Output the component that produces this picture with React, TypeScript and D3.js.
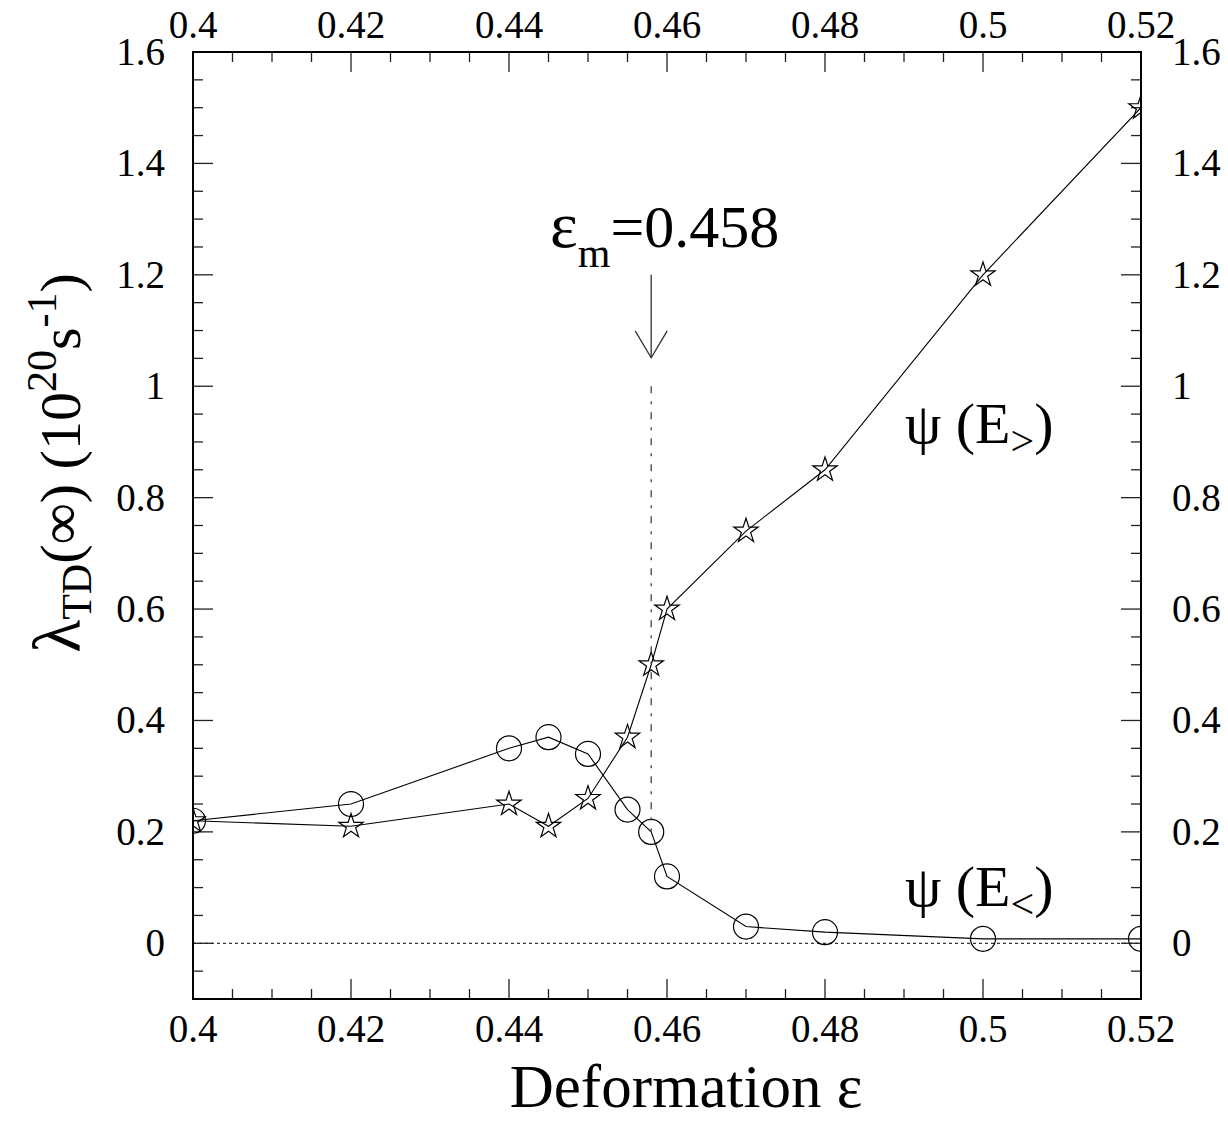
import React from "react";
import * as d3 from "d3";

// ---- data ----
const deformation = [0.4, 0.42, 0.44, 0.445, 0.45, 0.455, 0.458, 0.46, 0.47, 0.48, 0.5, 0.52];
const psiUpper = [0.22, 0.21, 0.25, 0.21, 0.26, 0.37, 0.5, 0.6, 0.74, 0.85, 1.2, 1.5]; // stars, E>
const psiLower = [0.22, 0.25, 0.35, 0.37, 0.34, 0.24, 0.2, 0.12, 0.03, 0.02, 0.008, 0.008]; // circles, E<
const xTickLabels = ["0.4", "0.42", "0.44", "0.46", "0.48", "0.5", "0.52"];
const yTickLabels = ["0", "0.2", "0.4", "0.6", "0.8", "1", "1.2", "1.4", "1.6"];
const epsM = 0.458;
const arrowFromTo = [1.2, 1.051];
const markerLineFromTo = [1.0, 0.2];

const W = 1228;
const H = 1121;
const L = 193, R = 1141, T = 52, B = 999;
const FONT = "Liberation Serif, Times New Roman, DejaVu Serif, serif";

export default function App() {
  const x = d3.scaleLinear().domain([0.4, 0.52]).range([L, R]);
  const y = d3.scaleLinear().domain([-0.1, 1.6]).range([B, T]);

  const xMajor = xTickLabels.map(Number);
  const xMinor = d3.range(0, 25).map((i) => 0.4 + i * 0.005).filter((v) => !xMajor.some((m) => Math.abs(m - v) < 1e-6));
  const yMajor = yTickLabels.map(Number);
  const yMinor = d3.range(-1, 32).map((i) => i * 0.05).filter((v) => v > -0.1 && v < 1.6 && !yMajor.some((m) => Math.abs(m - v) < 1e-6));

  const line = d3.line<number>().x((_, i) => x(deformation[i])).y((d) => y(d));
  const star = d3.symbol().type(d3.symbolStar).size(185)() as string;

  const tickStroke = "#222";
  const mx = x(epsM);
  const ts: React.CSSProperties = { fontFamily: FONT };

  return (
    <svg width={W} height={H} style={{ position: "absolute", left: 0, top: 0, display: "block", background: "#fff", fontFamily: FONT }}>
      <defs>
        <clipPath id="plotclip">
          <rect x={L} y={T} width={R - L} height={B - T} />
        </clipPath>
      </defs>
      <rect x={0} y={0} width={W} height={H} fill="#fff" />

      {/* zero dotted line */}
      <line x1={x(0.4)} x2={x(0.52)} y1={y(0)} y2={y(0)} stroke="#000" strokeWidth={1} strokeDasharray="3,3" />

      {/* ticks */}
      {xMajor.map((v) => (
        <g key={"xM" + v}>
          <line x1={x(v)} x2={x(v)} y1={B} y2={B - 20} stroke={tickStroke} strokeWidth={1.3} />
          <line x1={x(v)} x2={x(v)} y1={T} y2={T + 20} stroke={tickStroke} strokeWidth={1.3} />
        </g>
      ))}
      {xMinor.map((v) => (
        <g key={"xm" + v}>
          <line x1={x(v)} x2={x(v)} y1={B} y2={B - 10} stroke={tickStroke} strokeWidth={1.3} />
          <line x1={x(v)} x2={x(v)} y1={T} y2={T + 10} stroke={tickStroke} strokeWidth={1.3} />
        </g>
      ))}
      {yMajor.map((v) => (
        <g key={"yM" + v}>
          <line x1={L} x2={L + 20} y1={y(v)} y2={y(v)} stroke={tickStroke} strokeWidth={1.3} />
          <line x1={R} x2={R - 20} y1={y(v)} y2={y(v)} stroke={tickStroke} strokeWidth={1.3} />
        </g>
      ))}
      {yMinor.map((v) => (
        <g key={"ym" + v}>
          <line x1={L} x2={L + 10} y1={y(v)} y2={y(v)} stroke={tickStroke} strokeWidth={1.3} />
          <line x1={R} x2={R - 10} y1={y(v)} y2={y(v)} stroke={tickStroke} strokeWidth={1.3} />
        </g>
      ))}

      {/* tick labels */}
      {xTickLabels.map((t) => (
        <g key={"xl" + t} fontSize={39} textAnchor="middle" fill="#000">
          <text style={ts} x={x(+t)} y={1042}>{t}</text>
          <text style={ts} x={x(+t)} y={38}>{t}</text>
        </g>
      ))}
      {yTickLabels.map((t) => (
        <g key={"yl" + t} fontSize={39} fill="#000">
          <text style={ts} x={165} y={y(+t) + 13} textAnchor="end">{t}</text>
          <text style={ts} x={1172} y={y(+t) + 13} textAnchor="start">{t}</text>
        </g>
      ))}

      {/* data */}
      <g clipPath="url(#plotclip)">
        <path d={line(psiLower) || ""} fill="none" stroke="#000" strokeWidth={1.1} />
        <path d={line(psiUpper) || ""} fill="none" stroke="#000" strokeWidth={1.1} />
        {psiLower.map((v, i) => (
          <circle key={"c" + i} cx={x(deformation[i])} cy={y(v)} r={12.5} fill="none" stroke="#000" strokeWidth={1.2} />
        ))}
        {psiUpper.map((v, i) => (
          <path key={"s" + i} d={star} transform={`translate(${x(deformation[i])},${y(v)})`} fill="none" stroke="#000" strokeWidth={1.2} />
        ))}
      </g>

      {/* eps_m marker */}
      <line x1={mx} x2={mx} y1={y(markerLineFromTo[0])} y2={y(markerLineFromTo[1])} stroke="#444" strokeWidth={1.3} strokeDasharray="7,8,3,8" />
      <line x1={mx} x2={mx} y1={y(arrowFromTo[0])} y2={y(arrowFromTo[1])} stroke="#333" strokeWidth={1.3} />
      <path d={`M${mx - 16},${y(arrowFromTo[1]) - 27} L${mx},${y(arrowFromTo[1])} L${mx + 16},${y(arrowFromTo[1]) - 27}`} fill="none" stroke="#333" strokeWidth={1.3} />
      <text style={ts} x={550} y={247} fontSize={60} fill="#000">
        <tspan fontSize={66}>ε</tspan><tspan fontSize={42} dy={20}>m</tspan><tspan fontSize={60} dy={-20}>=0.458</tspan>
      </text>

      {/* curve labels */}
      <text style={ts} x={905} y={443} fontSize={58} fill="#000">
        ψ (E<tspan fontSize={42} dy={12}>&gt;</tspan><tspan fontSize={58} dy={-12}>)</tspan>
      </text>
      <text style={ts} x={905} y={906} fontSize={58} fill="#000">
        ψ (E<tspan fontSize={42} dy={12}>&lt;</tspan><tspan fontSize={58} dy={-12}>)</tspan>
      </text>

      {/* frame */}
      <rect x={L} y={T} width={R - L} height={B - T} fill="none" stroke="#000" strokeWidth={2} />

      {/* axis titles */}
      <text style={ts} x={686} y={1107} fontSize={61} textAnchor="middle" fill="#000">Deformation ε</text>
      <text style={ts} transform="translate(80,463) rotate(-90)" fontSize={58} textAnchor="middle" fill="#000">
        <tspan fontSize={68}>λ</tspan><tspan fontSize={42} dy={11}>TD</tspan><tspan dy={-11}>(∞) (10</tspan><tspan fontSize={42} dy={-24}>20</tspan><tspan dy={24}>s</tspan><tspan fontSize={42} dy={-24}>-1</tspan><tspan dy={24}>)</tspan>
      </text>
    </svg>
  );
}
